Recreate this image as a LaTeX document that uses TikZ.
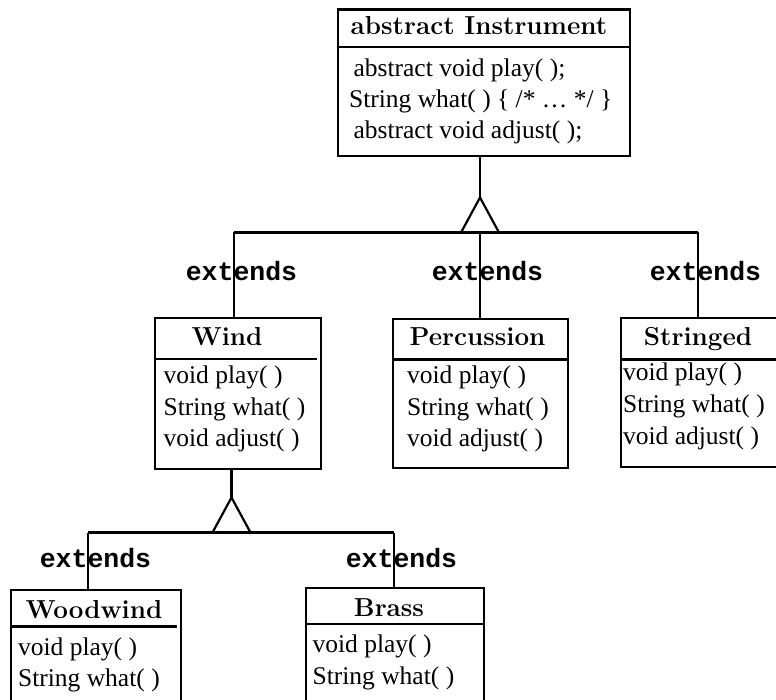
\documentclass[tikz,border=0pt]{standalone}
\usepackage{fontspec}
\newfontfamily\codefont{Liberation Mono}
\newfontfamily\membfont{Liberation Serif}
\begin{document}
\begin{tikzpicture}[x=1pt,y=-1pt,line width=2.2pt,
  box/.style={draw,anchor=north west,inner sep=0pt},
  title/.style={anchor=base,inner sep=0pt,font=\bfseries\fontsize{26}{26}\selectfont},
  member/.style={anchor=base west,inner sep=0pt,font=\membfont\fontsize{25.5}{25.5}\selectfont},
  ext/.style={anchor=base,inner sep=0pt,font=\codefont\bfseries\fontsize{26.5}{26.5}\selectfont}]
\useasboundingbox (0,0) rectangle (776,700);
% Instrument
\node[box,minimum width=292.5pt,minimum height=146.5pt] (instr) at (336.5,8.5) {};
\node[title] (instrT) at (479,35) {abstract Instrument};
\draw (336.5,47) -- (629,47);
\node[member] (instrA) at (352.5,76.5) {abstract void play( );};
\node[member] (instrB) at (348,107.5) {String what( ) \{ /* … */ \}};
\node[member] (instrC) at (352.5,139) {abstract void adjust( );};
% Wind
\node[box,minimum width=166pt,minimum height=150.5pt] (wind) at (154,317) {};
\node[title] (windT) at (227,345.5) {Wind};
\draw (154,359) -- (317,359);
% Percussion
\node[box,minimum width=175pt,minimum height=149pt] (perc) at (392,318) {};
\node[title] (percT) at (477.5,345.5) {Percussion};
\draw (392,359.5) -- (567,359.5);
% Stringed
\node[box,minimum width=155.5pt,minimum height=149pt] (strg) at (620,317) {};
\node[title] (strgT) at (698,345.5) {Stringed};
\draw (620,359.5) -- (775.5,359.5);
% Metodos
\foreach \n/\x/\y in {windM/162.5/383.5, percM/406/383.5, strgM/622/381} {
  \node[member] (\n1) at (\x,\y) {void play( )};
  \node[member] (\n2) at (\x,\y+31.5) {String what( )};
  \node[member] (\n3) at (\x,\y+63) {void adjust( )};
}
% Woodwind
\node[box,minimum width=170pt,minimum height=130pt] (wood) at (10,589) {};
\node[title] (woodT) at (94,618) {Woodwind};
\draw (10,626.5) -- (177,626.5);
\node[member] (wood1) at (17,655) {void play( )};
\node[member] (wood2) at (17,686.5) {String what( )};
% Brass
\node[box,minimum width=177.5pt,minimum height=130pt] (brass) at (305,587) {};
\node[title] (brassT) at (389,616) {Brass};
\draw (305,624) -- (482.5,624);
\node[member] (brass1) at (311.5,652.5) {void play( )};
\node[member] (brass2) at (311.5,684) {String what( )};
% Herencia arriba
\coordinate (apex1) at (480,197.5);
\coordinate (b1) at (234,232.5);
\coordinate (b2) at (480,232.5);
\coordinate (b3) at (698,232.5);
\draw (instr.south -| apex1) -- (apex1);
\draw[line join=miter] (apex1) -- ([xshift=-19pt]b2) -- ([xshift=19pt]b2) -- cycle;
\draw (b1) -- (b3);
\draw (b1) -- (b1 |- wind.north);
\draw (b2) -- (b2 |- perc.north);
\draw (b3) -- (b3 |- strg.north);
\node[ext] (ext1) at (241.5,281) {extends};
\node[ext] (ext2) at (487.5,281) {extends};
\node[ext] (ext3) at (705.5,281) {extends};
% Herencia abajo
\coordinate (apex2) at (231.5,497.5);
\coordinate (c1) at (88,532.5);
\coordinate (c2) at (231.5,532.5);
\coordinate (c3) at (394,532.5);
\draw (wind.south -| apex2) -- (apex2);
\draw[line join=miter] (apex2) -- ([xshift=-19pt]c2) -- ([xshift=19pt]c2) -- cycle;
\draw (c1) -- (c3);
\draw (c1) -- (c1 |- wood.north);
\draw (c3) -- (c3 |- brass.north);
\node[ext] (ext4) at (95.5,567) {extends};
\node[ext] (ext5) at (401.5,567) {extends};
\end{tikzpicture}
\end{document}
